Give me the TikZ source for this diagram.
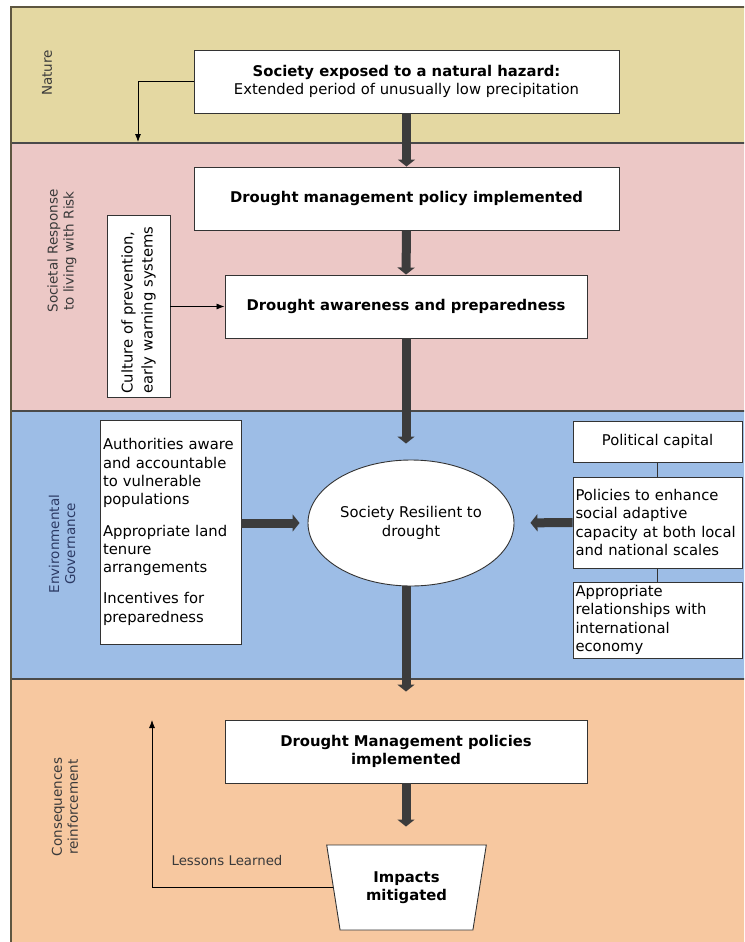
\documentclass[tikz,border=0pt]{standalone}
\usepackage{fontspec}
\setmainfont{DejaVu Sans}
\usepackage{graphicx}
\usetikzlibrary{arrows.meta,shapes.geometric}
\definecolor{natcol}{HTML}{E4D8A2}
\definecolor{soccol}{HTML}{ECC8C6}
\definecolor{envcol}{HTML}{9DBDE6}
\definecolor{concol}{HTML}{F7C8A0}
\definecolor{framecol}{HTML}{5E5640}
\definecolor{bandline}{HTML}{4A4A4A}
\definecolor{boxline}{HTML}{333333}
\definecolor{arrowcol}{HTML}{3C3C3C}
\definecolor{labcol}{HTML}{3A3A3A}
\definecolor{envlab}{HTML}{2C3A64}
\begin{document}
\begin{tikzpicture}[x=1pt,y=-1pt,
  box/.style={draw=boxline, line width=0.9pt, fill=white, inner sep=0pt},
  txt/.style={font=\fontsize{14.8}{18.3}\selectfont},
  boldtxt/.style={font=\fontsize{14.8}{18.3}\selectfont\bfseries},
  sidelab/.style={rotate=90, align=center, font=\fontsize{13.5}{16}\selectfont, text=labcol},
  bigarrow/.style={draw=arrowcol, line width=9pt, -{Triangle[width=17pt,length=7pt]}},
  thinarrow/.style={draw=black, line width=0.8pt, -{Latex[length=8pt,width=6pt]}},
  link/.style={draw=boxline, line width=0.9pt}]
\clip (0,0) rectangle (744,942);
\fill[white] (0,0) rectangle (744,942);
% bands
\fill[natcol] (11,7) rectangle (750,143);
\fill[soccol] (11,143) rectangle (750,411);
\fill[envcol] (11,411) rectangle (750,679);
\fill[concol] (11,679) rectangle (750,950);
\draw[bandline, line width=2pt] (11,143) -- (750,143);
\draw[bandline, line width=2pt] (11,411) -- (750,411);
\draw[bandline, line width=2pt] (11,679) -- (750,679);
\draw[framecol, line width=2pt] (750,7) -- (11,7) -- (11,950);
% side labels
\node[sidelab] (lnat) at (47,73) {Nature};
\node[sidelab] (lsoc) at (62,251) {Societal Response\\to living with Risk};
\node[sidelab, text=envlab] (lenv) at (62,544) {Environmental\\Governance};
\node[sidelab] (lcon) at (65,807) {Consequences\\reinforcement};
% main boxes
\node[box, minimum width=425pt, minimum height=63pt, align=center, txt] (b1) at (406.5,81.5)
  {\textbf{Society exposed to a natural hazard:}\\Extended period of unusually low precipitation};
\node[box, minimum width=425pt, minimum height=63pt, align=center, boldtxt] (b2) at (406.5,198.5)
  {Drought management policy implemented};
\node[box, minimum width=362pt, minimum height=63pt, align=center, boldtxt] (b3) at (406,306.5)
  {Drought awareness and preparedness};
\node[box, minimum width=63pt, minimum height=182pt] (cul) at (138.5,306.5)
  {\rotatebox{90}{\parbox{174pt}{\raggedright\fontsize{14.8}{20}\selectfont Culture of prevention,\\early warning systems}}};
\node[box, minimum width=141pt, minimum height=224pt, text width=135pt, align=left, txt] (auth) at (170.5,532)
  {Authorities aware\\and accountable\\to vulnerable\\populations\\[13pt]Appropriate land\\tenure\\arrangements\\[13pt]Incentives for\\preparedness};
\node[ellipse, draw=boxline, line width=0.9pt, fill=white, minimum width=206pt, minimum height=126pt, inner sep=0pt, align=center, txt] (ell) at (411,523)
  {Society Resilient to\\drought};
\node[box, minimum width=169pt, minimum height=41pt, align=center, txt] (pc) at (657.5,441.5) {Political capital};
\node[box, minimum width=169pt, minimum height=91pt, text width=164pt, align=left, txt] (pol) at (657.5,522.5)
  {Policies to enhance\\social adaptive\\capacity at both local\\and national scales};
\node[box, minimum width=169pt, minimum height=76pt, text width=164pt, align=left, txt] (app) at (657.5,620)
  {Appropriate\\relationships with\\international\\economy};
\node[box, minimum width=362pt, minimum height=63pt, align=center, boldtxt] (b4) at (406,751.5)
  {Drought Management policies\\implemented};
\node[trapezium, trapezium stretches=true, trapezium left angle=75.8, trapezium right angle=75.8,
  shape border rotate=180, minimum width=161pt, minimum height=85pt, draw=boxline, line width=0.9pt,
  fill=white, inner sep=0pt, align=center, boldtxt] (imp) at (406.5,887.5) {Impacts\\mitigated};
\node[font=\fontsize{13.3}{16}\selectfont, text=labcol] (lltxt) at (227,861) {Lessons Learned};
% connectors
\draw[bigarrow] (b1.south) -- (b2.north);
\draw[bigarrow] (b2.south) -- (b3.north);
\draw[bigarrow, shorten >=16pt] (b3.south) -- (b3.south |- ell.north);
\draw[bigarrow, shorten >=28pt] (b4.north |- ell.south) -- (b4.north);
\draw[bigarrow, shorten >=18pt] (b4.south) -- (b4.south |- imp.north);
\draw[bigarrow, shorten >=8pt] (auth.east |- ell.west) -- (ell.west);
\draw[bigarrow, shorten >=16pt] (pol.west) -- (ell.east);
\draw[link] (pc.south) -- (pol.north);
\draw[link] (pol.south) -- (app.north);
\coordinate (natend) at (138,142);
\draw[thinarrow] (b1.west) -| (natend);
\draw[thinarrow] (cul.east) -- (b3.west);
\coordinate (llend) at (152,720);
\draw[thinarrow] (imp.west) -| (llend);
\end{tikzpicture}
\end{document}
